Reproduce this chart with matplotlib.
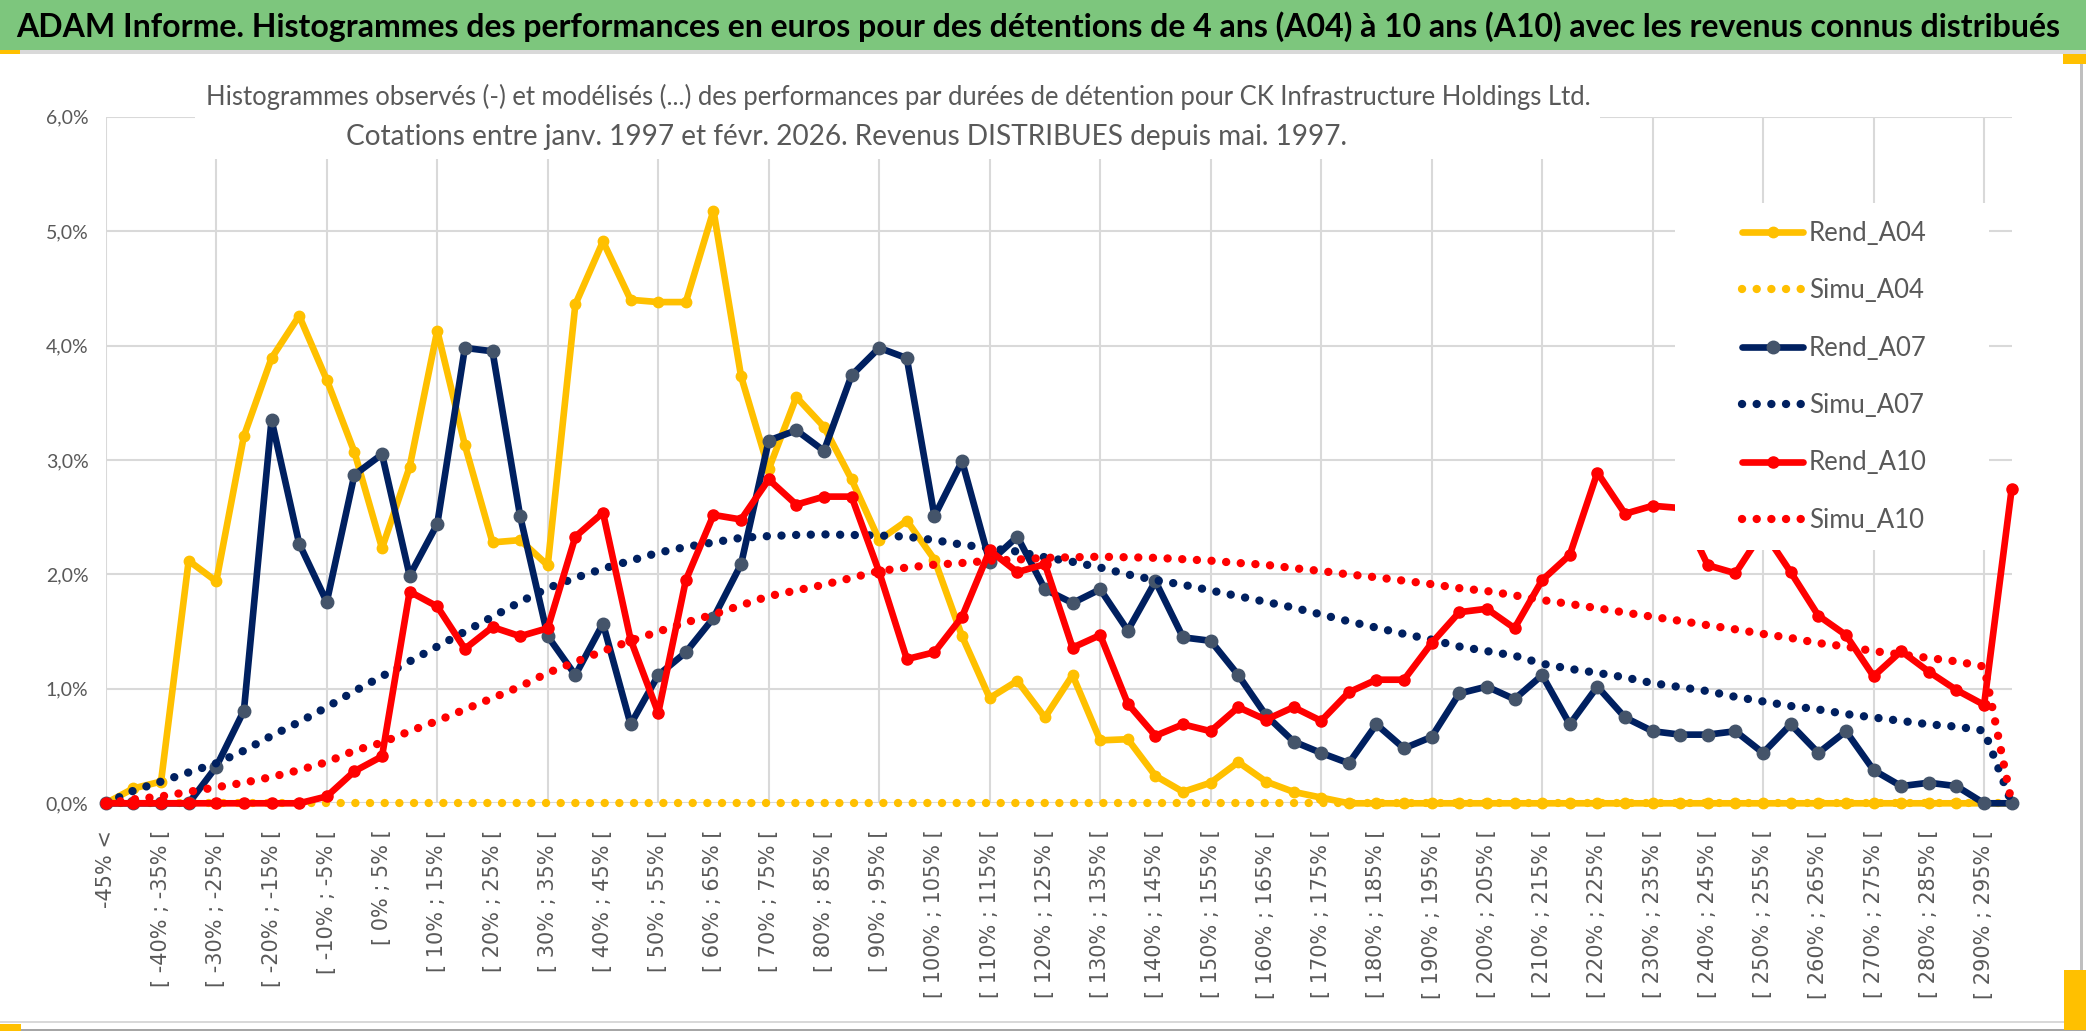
import matplotlib
matplotlib.use("Agg")
import matplotlib.pyplot as plt
from matplotlib.patches import Rectangle
from matplotlib.ticker import FuncFormatter

plt.rcParams['font.family'] = ['Lato', 'DejaVu Sans']

W, H = 2086, 1031

# categories: "-45% <" then 5% buckets up to [ 295% ; 300% [
cats = ["-45% <"] + ["[ %d%% ; %d%% [" % (a, a + 5) for a in range(-45, 300, 5)]

# values in %
rend_a04 = [0.00, 0.13, 0.19, 2.12, 1.94, 3.21, 3.89, 4.26, 3.70, 3.07,
            2.23, 2.94, 4.13, 3.13, 2.28, 2.30, 2.08, 4.36, 4.91, 4.40,
            4.38, 4.38, 5.18, 3.73, 2.92, 3.55, 3.29, 2.83, 2.30, 2.47,
            2.13, 1.46, 0.92, 1.07, 0.75, 1.12, 0.55, 0.56, 0.24, 0.10,
            0.18, 0.36, 0.19, 0.10, 0.05, 0.00, 0.00, 0.00, 0.00, 0.00,
            0.00, 0.00, 0.00, 0.00, 0.00, 0.00, 0.00, 0.00, 0.00, 0.00,
            0.00, 0.00, 0.00, 0.00, 0.00, 0.00, 0.00, 0.00, 0.00, 0.00]
simu_a04 = [0.0] * 70
rend_a07 = [0.00, 0.00, 0.00, 0.00, 0.32, 0.81, 3.35, 2.27, 1.76, 2.87,
            3.05, 1.99, 2.44, 3.98, 3.95, 2.51, 1.46, 1.12, 1.57, 0.69,
            1.12, 1.32, 1.62, 2.09, 3.17, 3.26, 3.08, 3.74, 3.98, 3.89,
            2.51, 2.99, 2.11, 2.33, 1.87, 1.75, 1.87, 1.51, 1.94, 1.45,
            1.42, 1.12, 0.77, 0.54, 0.44, 0.35, 0.69, 0.48, 0.58, 0.96,
            1.02, 0.91, 1.12, 0.69, 1.02, 0.75, 0.63, 0.60, 0.60, 0.63,
            0.44, 0.69, 0.44, 0.63, 0.29, 0.15, 0.18, 0.15, 0.00, 0.00]
simu_a07 = [0.00, 0.11, 0.19, 0.27, 0.35, 0.46, 0.59, 0.71, 0.84, 0.98,
            1.11, 1.24, 1.37, 1.50, 1.63, 1.76, 1.88, 1.97, 2.05, 2.12,
            2.19, 2.24, 2.28, 2.32, 2.335, 2.345, 2.35, 2.345, 2.34, 2.33,
            2.30, 2.26, 2.23, 2.20, 2.15, 2.11, 2.06, 2.00, 1.95, 1.91,
            1.86, 1.81, 1.76, 1.71, 1.65, 1.59, 1.535, 1.48, 1.43, 1.37,
            1.33, 1.29, 1.22, 1.175, 1.14, 1.10, 1.05, 1.015, 0.98, 0.93,
            0.89, 0.85, 0.82, 0.78, 0.75, 0.72, 0.69, 0.67, 0.635, 0.00]
rend_a10 = [0.00, 0.00, 0.00, 0.00, 0.00, 0.00, 0.00, 0.00, 0.06, 0.28,
            0.41, 1.85, 1.72, 1.35, 1.54, 1.46, 1.53, 2.33, 2.54, 1.43,
            0.79, 1.95, 2.52, 2.48, 2.83, 2.61, 2.68, 2.68, 2.02, 1.26,
            1.32, 1.63, 2.21, 2.02, 2.09, 1.36, 1.47, 0.87, 0.59, 0.69,
            0.63, 0.84, 0.73, 0.84, 0.72, 0.97, 1.08, 1.08, 1.40, 1.67,
            1.70, 1.53, 1.95, 2.17, 2.89, 2.53, 2.60, 2.58, 2.08, 2.01,
            2.38, 2.02, 1.64, 1.47, 1.11, 1.33, 1.15, 0.99, 0.86, 2.75]
simu_a10 = [0.00, 0.035, 0.06, 0.10, 0.14, 0.18, 0.23, 0.29, 0.36, 0.46,
            0.53, 0.63, 0.72, 0.82, 0.92, 1.02, 1.14, 1.235, 1.33, 1.42,
            1.50, 1.58, 1.65, 1.73, 1.81, 1.86, 1.91, 1.97, 2.03, 2.06,
            2.085, 2.10, 2.12, 2.13, 2.145, 2.15, 2.155, 2.15, 2.145, 2.133,
            2.12, 2.10, 2.084, 2.055, 2.03, 2.00, 1.975, 1.945, 1.915, 1.88,
            1.855, 1.817, 1.776, 1.742, 1.705, 1.667, 1.63, 1.594, 1.556, 1.52,
            1.48, 1.445, 1.40, 1.37, 1.33, 1.30, 1.27, 1.24, 1.195, 0.00]

title = ("ADAM Informe. Histogrammes des performances en euros pour des détentions "
         "de 4 ans (A04) à 10 ans (A10) avec les revenus connus distribués")
sub1 = ("Histogrammes observés (-) et modélisés (...) des performances par durées "
        "de détention pour CK Infrastructure Holdings Ltd.")
sub2 = "Cotations entre janv. 1997 et févr. 2026. Revenus DISTRIBUES depuis mai. 1997."

YELLOW = '#FFC000'
NAVY = '#002060'
NAVY_MK = '#44546A'
RED = '#FF0000'
GREY_TXT = '#595959'
GRID = '#D9D9D9'

fig = plt.figure(figsize=(W / 100, H / 100), dpi=100)
ax = fig.add_axes([105.8 / W, 1 - 803.3 / H, (2011.7 - 105.8) / W, (803.3 - 116.7) / H])

x = list(range(len(cats)))
dots = (0, (0.01, 1.75))
solid = dict(lw=4.8, solid_capstyle='round', solid_joinstyle='round', clip_on=False)
dotted = dict(lw=6, ls=dots, dash_capstyle='round', clip_on=False)

ax.plot(x, rend_a04, color=YELLOW, marker='o', ms=7.5, mec=YELLOW, label='Rend_A04', zorder=3, **solid)
ax.plot(x, simu_a04, color=YELLOW, label='Simu_A04', zorder=4, **dotted)
ax.plot(x, rend_a07, color=NAVY, marker='o', ms=9, mfc=NAVY_MK, mec=NAVY_MK, label='Rend_A07', zorder=5, **solid)
ax.plot(x, simu_a07, color=NAVY, label='Simu_A07', zorder=6, **dotted)
ax.plot(x, rend_a10, color=RED, marker='o', ms=8, mec=RED, label='Rend_A10', zorder=7, **solid)
ax.plot(x, simu_a10, color=RED, label='Simu_A10', zorder=8, **dotted)

ax.set_xlim(0, len(cats) - 1)
ax.set_ylim(0, 6)
ax.set_yticks(range(0, 7))
ax.yaxis.set_major_formatter(FuncFormatter(lambda v, p: ("%.1f%%" % v).replace('.', ',')))
ax.set_xticks(x[::2])
ax.set_xticklabels(cats[::2], rotation=90, fontsize=15, color=GREY_TXT, family='DejaVu Sans')
ax.set_xticks(x[::4], minor=True)
ax.xaxis.remove_overlapping_locs = False
ax.tick_params(axis='x', which='both', length=0, pad=19)
ax.tick_params(axis='y', length=0, pad=12.5, labelsize=14, labelcolor=GREY_TXT)
ax.grid(axis='y', color=GRID, lw=1.5, zorder=0)
ax.grid(axis='x', which='minor', color=GRID, lw=1.5, zorder=0)
ax.set_axisbelow(True)
for s in ax.spines.values():
    s.set_visible(False)

# decorations: title bar, borders
fig.add_artist(Rectangle((0, 1 - 50 / H), 1, 50 / H, transform=fig.transFigure,
                         facecolor='#7DC67D', edgecolor='none', zorder=1))
fig.add_artist(Rectangle((0, 1 - 54 / H), 1, 4 / H, transform=fig.transFigure,
                         facecolor='#D9D9D9', edgecolor='none', zorder=1))
fig.add_artist(Rectangle((0, 1 - 54 / H), 20 / W, 4 / H, transform=fig.transFigure,
                         facecolor=YELLOW, edgecolor='none', zorder=2))
fig.add_artist(Rectangle((2063 / W, 1 - 64 / H), 23 / W, 10 / H, transform=fig.transFigure,
                         facecolor=YELLOW, edgecolor='none', zorder=2))
fig.add_artist(Rectangle((2080 / W, 0), 3 / W, 1 - 54 / H, transform=fig.transFigure,
                         facecolor='#BFBFBF', edgecolor='none', zorder=1))
fig.add_artist(Rectangle((2064 / W, 1 / H), 22 / W, 60 / H, transform=fig.transFigure,
                         facecolor=YELLOW, edgecolor='none', zorder=2))
fig.add_artist(Rectangle((0, 8 / H), 1, 2 / H, transform=fig.transFigure,
                         facecolor='#D9D9D9', edgecolor='none', zorder=1))
fig.add_artist(Rectangle((0, 0), 1, 2 / H, transform=fig.transFigure,
                         facecolor='#A6A6A6', edgecolor='none', zorder=1))
fig.add_artist(Rectangle((0, 0), 21 / W, 7 / H, transform=fig.transFigure,
                         facecolor=YELLOW, edgecolor='none', zorder=2))

# white boxes behind subtitle and legend (they hide grid and lines)
fig.add_artist(Rectangle((195 / W, 1 - 159 / H), 1405 / W, 100 / H, transform=fig.transFigure,
                         facecolor='white', edgecolor='none', zorder=5))
fig.add_artist(Rectangle((1675 / W, 1 - 550 / H), 314 / W, 347 / H, transform=fig.transFigure,
                         facecolor='white', edgecolor='none', zorder=5))

t0 = fig.text(16 / W, 1 - 27 / H, title, fontsize=24, fontweight='bold', color='black',
              ha='left', va='center', zorder=6)
t1 = fig.text(206 / W, 1 - 97 / H, sub1, fontsize=19, color=GREY_TXT, ha='left', va='center', zorder=6)
t2 = fig.text(346 / W, 1 - 137 / H, sub2, fontsize=19, color=GREY_TXT, ha='left', va='center', zorder=6)

leg = fig.legend(loc='upper left', bbox_to_anchor=(1741.7 / W, 1 - 221 / H), frameon=False,
                 fontsize=18.5, handlelength=2.4, handletextpad=0.22, labelspacing=1.26,
                 borderpad=0, borderaxespad=0, numpoints=1)
leg.set_zorder(7)
for t in leg.get_texts():
    t.set_color(GREY_TXT)

# stretch the header texts to the widths seen on the chart
r = fig.canvas.get_renderer()
for t, wpx in ((t0, 2049), (t1, 1384), (t2, 1000)):
    w = t.get_window_extent(r).width
    t.set_fontsize(t.get_fontsize() * wpx / w)

fig.savefig("out.png", dpi=100, facecolor='white')
